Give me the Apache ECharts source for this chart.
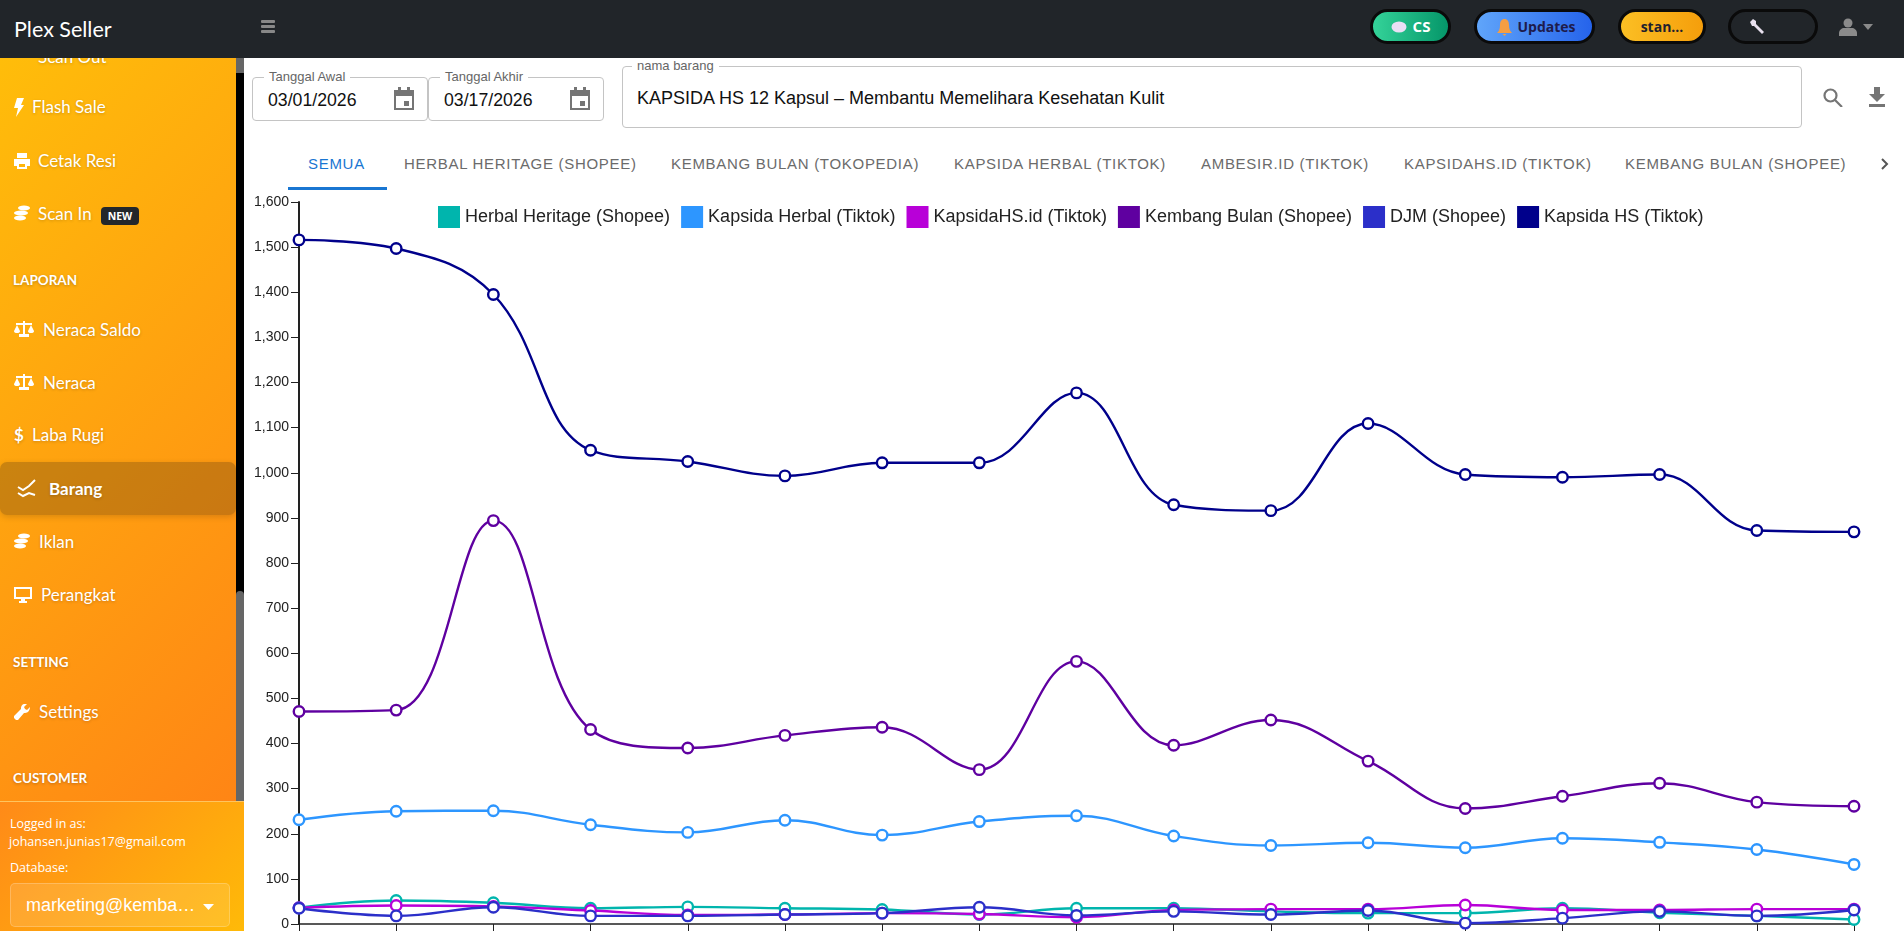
<!DOCTYPE html>
<html>
<head>
<meta charset="utf-8">
<title>Plex Seller</title>
<script src="https://cdn.jsdelivr.net/npm/echarts@6/dist/echarts.min.js"></script>
<style>
html, body { margin: 0; padding: 0; width: 1904px; height: 931px; overflow: hidden; background: #fff; font-family: "Liberation Sans", Arial, sans-serif; }
.abs, .abs * { box-sizing: border-box; }
.abs { position: absolute; }
#topbar { left: 0; top: 0; width: 1904px; height: 58px; background: #212529; z-index: 5; }
#brand { left: 14px; top: 14px; color: #fff; font: 21.500px/30px Lato, sans-serif; }
.pill { top: 9px; height: 35px; border: 3px solid #0a0a0a; border-radius: 18px; font: bold 14px/29px "Open Sans", sans-serif; text-align: center; }
#sidebar { left: 0; top: 58px; width: 236px; height: 743px; background: linear-gradient(135deg, #ffbd0a, #ff8515); overflow: hidden; }
.menu { position: absolute; color: #fff; font: 17px/24px Lato, sans-serif; text-shadow: 0 1px 3px rgba(0,0,0,.2); white-space: nowrap; }
.head { position: absolute; left: 13px; color: #fff; font: bold 13.5px/18px Lato, sans-serif; text-shadow: 0 1px 3px rgba(0,0,0,.25); }
.ico { position: absolute; fill: #fff; }
#active { left: 0; top: 404px; width: 236px; height: 53px; background: rgba(90,60,20,.32); border-radius: 7px; box-shadow: 0 2px 6px rgba(0,0,0,.15); }
#badge { left: 101px; top: 149px; width: 38px; height: 18px; background: #23272b; color: #fff; border-radius: 4px; font: bold 10.5px/18px "Open Sans", sans-serif; text-align: center; }
#track { left: 236px; top: 58px; width: 8px; height: 743px; background: #000; }
#bottom { left: 0; top: 801px; width: 244px; height: 130px; background: linear-gradient(135deg, #ff8a18, #ffba08); border-top: 1px solid #ffc45e; color: #fff; font: 12.5px/16px "Open Sans", sans-serif; }
.field { border: 1px solid #c4c4c4; border-radius: 4px; background: #fff; }
.flabel { position: absolute; top: -9px; background: #fff; padding: 0 5px; color: #666; font: 13px/16px "Liberation Sans", sans-serif; white-space: nowrap; }
.fval { position: absolute; color: #111; font: 17.700px/20px "Liberation Sans", sans-serif; white-space: nowrap; }
.tab { top: 154px; color: #6b6b6b; font: 15px/20px "Liberation Sans", sans-serif; letter-spacing: .7px; white-space: nowrap; }
#chart { left: 244px; top: 190px; width: 1660px; height: 741px; }
</style>
</head>
<body>

<div class="abs" id="topbar">
  <div class="abs" id="brand">Plex Seller</div>
  <svg class="abs" style="left:261px;top:20px" width="14" height="13" fill="#888"><rect width="14" height="3" rx="1"/><rect y="5" width="14" height="3" rx="1"/><rect y="10" width="14" height="3" rx="1"/></svg>
  <div class="abs pill" style="left:1370px;width:81px;background:linear-gradient(90deg,#34d399,#059669);color:#fff;padding-left:22px;font-size:15px">CS
    <svg class="abs" style="left:18px;top:9px" width="16" height="12"><ellipse cx="8" cy="6" rx="7.500" ry="5.500" fill="#eadff5"/></svg></div>
  <div class="abs pill" style="left:1474px;width:121px;background:linear-gradient(90deg,#60a5fa,#2563eb);color:#1e1b4b;padding-left:24px">Updates
    <svg class="abs" style="left:20px;top:7px" width="15" height="17"><path d="M7.500 0c3 0 4.500 2.500 4.500 6 0 4 1 6 3 8H0c2-2 3-4 3-8 0-3.500 1.500-6 4.500-6zM5.500 15h4l-2 2z" fill="#f59e42"/></svg></div>
  <div class="abs pill" style="left:1618px;width:88px;background:linear-gradient(90deg,#fbbf24,#f59e0b);color:#1f1f2e">stan...</div>
  <div class="abs pill" style="left:1728px;width:90px;background:#212529">
    <svg class="abs" style="left:19px;top:7px" width="14" height="15"><path d="M0 3l3-3 3 2v3l8 8-2 2-8-8H2z" fill="#e8e0ee"/></svg></div>
  <svg class="abs" style="left:1839px;top:18px" width="18" height="18" fill="#8a8a8a"><circle cx="9" cy="5" r="4.500"/><path d="M0 18v-3c0-3 3-5 5-5h8c2 0 5 2 5 5v3z"/></svg>
  <svg class="abs" style="left:1863px;top:24px" width="10" height="6" fill="#8a8a8a"><path d="M0 0h10L5 6z"/></svg>
</div>

<div class="abs" id="sidebar">
  <div class="menu" style="left:38px;top:-13px">Scan Out</div>
  <div class="abs" id="active"></div>
  <svg class="ico" style="left:14px;top:40px" width="10" height="19"><path d="M3 0h7L7 7h3L2 19l2-9H0z"/></svg>
  <div class="menu" style="left:32px;top:37px">Flash Sale</div>
  <svg class="ico" style="left:14px;top:95px" width="16" height="16"><path d="M3 0h10v5H3zM0 6h16v7h-3v3H3v-3H0zM5 11v3h6v-3z"/></svg>
  <div class="menu" style="left:38px;top:91px">Cetak Resi</div>
  <svg class="ico" style="left:14px;top:147px" width="16" height="16"><ellipse cx="10" cy="3" rx="6" ry="2.500"/><ellipse cx="7" cy="8" rx="7" ry="2.500"/><ellipse cx="6" cy="13" rx="6" ry="2.500"/></svg>
  <div class="menu" style="left:38px;top:144px">Scan In</div>
  <div class="abs" id="badge">NEW</div>
  <div class="head" style="top:213px">LAPORAN</div>
  <svg class="ico" style="left:14px;top:263px" width="20" height="16"><path d="M9 0h2v2h7v2h-7v9h4v3H5v-3h4V4H2V2h7zM0 10l3-6 3 6a3 2 0 0 1-6 0zM14 10l3-6 3 6a3 2 0 0 1-6 0z"/></svg>
  <div class="menu" style="left:43px;top:260px">Neraca Saldo</div>
  <svg class="ico" style="left:14px;top:316px" width="20" height="16"><path d="M9 0h2v2h7v2h-7v9h4v3H5v-3h4V4H2V2h7zM0 10l3-6 3 6a3 2 0 0 1-6 0zM14 10l3-6 3 6a3 2 0 0 1-6 0z"/></svg>
  <div class="menu" style="left:43px;top:313px">Neraca</div>
  <div class="menu" style="left:14px;top:365px;font-weight:bold">$</div>
  <div class="menu" style="left:32px;top:365px">Laba Rugi</div>
  <svg class="abs" style="left:17px;top:420px" width="21" height="21" fill="none" stroke="#fff" stroke-width="2"><path d="M1 9l5 3 6-4 6-6M1 15l5 3 6-3 6 2"/></svg>
  <div class="menu" style="left:49px;top:419px;font-weight:700">Barang</div>
  <svg class="ico" style="left:14px;top:475px" width="16" height="16"><ellipse cx="10" cy="3" rx="6" ry="2.500"/><ellipse cx="7" cy="8" rx="7" ry="2.500"/><ellipse cx="6" cy="13" rx="6" ry="2.500"/></svg>
  <div class="menu" style="left:39px;top:472px">Iklan</div>
  <svg class="ico" style="left:14px;top:529px" width="18" height="16"><path d="M0 0h18v12h-7v2h2v2H5v-2h2v-2H0zM2 2v8h14V2z"/></svg>
  <div class="menu" style="left:41px;top:525px">Perangkat</div>
  <div class="head" style="top:595px">SETTING</div>
  <svg class="ico" style="left:14px;top:646px" width="16" height="16"><path d="M16 3l-3 3-2-1-1-2 3-3c-3-1-6 1-6 4v1L0 12v2l2 2h2l6-7h1c3 0 5-3 5-6z"/></svg>
  <div class="menu" style="left:39px;top:642px">Settings</div>
  <div class="head" style="top:711px">CUSTOMER</div>
</div>

<div class="abs" id="track">
  <div class="abs" style="left:0;top:0;width:8px;height:15px;background:#666"></div>
  <div class="abs" style="left:0;top:533px;width:8px;height:210px;background:#666;border-radius:4px 4px 0 0"></div>
</div>

<div class="abs" id="bottom">
  <div class="abs" style="left:10px;top:14px">Logged in as:</div>
  <div class="abs" style="left:9px;top:32px;white-space:nowrap">johansen.junias17@gmail.com</div>
  <div class="abs" style="left:10px;top:58px">Database:</div>
  <div class="abs" style="left:10px;top:81px;width:220px;height:44px;background:rgba(255,255,255,.12);border:1px solid rgba(255,255,255,.22);border-radius:5px">
    <div class="abs" style="left:15px;top:11px;font:18px/20px 'Liberation Sans',sans-serif;white-space:nowrap">marketing@kemba…</div>
    <svg class="abs" style="left:192px;top:20px" width="11" height="6" fill="#fff"><path d="M0 0h11L5.500 6z"/></svg>
  </div>
</div>

<div class="abs field" style="left:252px;top:77px;width:176px;height:44px">
  <div class="flabel" style="left:11px">Tanggal Awal</div>
  <div class="fval" style="left:15px;top:12px">03/01/2026</div>
  <svg class="abs" style="left:141px;top:9px" width="20" height="23" fill="#757575"><path d="M0 3h4V0h3v3h6V0h3v3h4v20H0zM2 9v12h16V9zM10 14h5v5h-5z"/></svg>
</div>
<div class="abs field" style="left:428px;top:77px;width:176px;height:44px">
  <div class="flabel" style="left:11px">Tanggal Akhir</div>
  <div class="fval" style="left:15px;top:12px">03/17/2026</div>
  <svg class="abs" style="left:141px;top:9px" width="20" height="23" fill="#757575"><path d="M0 3h4V0h3v3h6V0h3v3h4v20H0zM2 9v12h16V9zM10 14h5v5h-5z"/></svg>
</div>
<div class="abs field" style="left:622px;top:66px;width:1180px;height:62px">
  <div class="flabel" style="left:9px">nama barang</div>
  <div class="fval" style="left:14px;top:21px;font-size:18px">KAPSIDA HS 12 Kapsul – Membantu Memelihara Kesehatan Kulit</div>
</div>
<svg class="abs" style="left:1823px;top:88px" width="20" height="19" fill="none" stroke="#757575" stroke-width="2.200"><circle cx="7.500" cy="7.500" r="6"/><path d="M12 12l7 7"/></svg>
<svg class="abs" style="left:1869px;top:87px" width="16" height="20" fill="#757575"><path d="M5 0h6v7h5l-8 8-8-8h5zM0 17h16v3H0z"/></svg>

<div class="abs tab" style="left:308px;color:#1976d2">SEMUA</div>
<div class="abs" style="left:288px;top:187px;width:99px;height:3px;background:#1976d2"></div>
<div class="abs tab" style="left:404px">HERBAL HERITAGE (SHOPEE)</div>
<div class="abs tab" style="left:671px">KEMBANG BULAN (TOKOPEDIA)</div>
<div class="abs tab" style="left:954px">KAPSIDA HERBAL (TIKTOK)</div>
<div class="abs tab" style="left:1201px">AMBESIR.ID (TIKTOK)</div>
<div class="abs tab" style="left:1404px">KAPSIDAHS.ID (TIKTOK)</div>
<div class="abs tab" style="left:1625px">KEMBANG BULAN (SHOPEE)</div>
<svg class="abs" style="left:1881px;top:158px" width="8" height="12" fill="none" stroke="#555" stroke-width="2"><path d="M1 1l5 5-5 5"/></svg>

<div class="abs" id="chart"></div>

<script>
const tanggal = ['03/01','03/02','03/03','03/04','03/05','03/06','03/07','03/08','03/09','03/10','03/11','03/12','03/13','03/14','03/15','03/16','03/17'];
const herbalHeritage = [36,52,47,35,38,35,32,21,35,35,28,24,24,35,25,18,10];
const kapsidaHerbal = [231,250,251,220,203,230,197,227,240,195,174,180,169,190,181,165,132];
const kapsidaHSid = [36,41,39,30,20,21,24,22,15,31,33,33,42,31,31,33,33];
const kembangBulan = [471,474,894,431,390,418,436,342,582,396,452,361,256,283,312,270,261];
const djm = [35,18,37,18,18,21,24,37,19,28,21,30,2,13,28,18,31];
const kapsidaHS = [1516,1497,1395,1050,1025,993,1022,1022,1177,929,916,1109,996,990,996,872,869];

const namaSeri = ['Herbal Heritage (Shopee)','Kapsida Herbal (Tiktok)','KapsidaHS.id (Tiktok)','Kembang Bulan (Shopee)','DJM (Shopee)','Kapsida HS (Tiktok)'];
const warnaSeri = ['#00b5ad','#2d96ff','#b800d8','#5f00a0','#2b2fc9','#00008b'];
const nilaiSeri = [herbalHeritage, kapsidaHerbal, kapsidaHSid, kembangBulan, djm, kapsidaHS];

const chart = echarts.init(document.getElementById('chart'), null, { renderer: 'canvas' });

chart.setOption({
    animation: false,
    backgroundColor: 'transparent',
    color: warnaSeri,
    legend: {
        left: 194,
        top: 16,
        padding: 0,
        itemWidth: 22,
        itemHeight: 22,
        itemGap: 11,
        icon: 'rect',
        textStyle: { fontFamily: 'Liberation Sans', fontSize: 18, color: '#222', padding: [8, 0, 0, 0] },
        // 图例色块用实心，折线圆点是白底
        data: namaSeri.map((nama, i) => ({
            name: nama,
            itemStyle: { color: warnaSeri[i], borderWidth: 0 }
        }))
    },
    grid: { left: 55, top: 12, right: 50, bottom: 7 },
    xAxis: {
        type: 'category',
        boundaryGap: false,
        data: tanggal,
        axisLine: { lineStyle: { color: '#222', width: 1.5 } },
        axisTick: { show: true, length: 8, lineStyle: { color: '#222', width: 1 } },
        axisLabel: { show: false }
    },
    yAxis: {
        type: 'value',
        min: 0,
        max: 1600,
        interval: 100,
        splitLine: { show: false },
        axisLine: { show: true, lineStyle: { color: '#222', width: 2 } },
        axisTick: { show: true, length: 8, lineStyle: { color: '#222', width: 1 } },
        axisLabel: {
            margin: 10,
            fontFamily: 'Liberation Sans',
            fontSize: 14,
            color: '#222',
            formatter: v => v.toLocaleString('en-US')
        }
    },
    series: nilaiSeri.map((nilai, i) => ({
        name: namaSeri[i],
        type: 'line',
        data: nilai,
        smooth: 0.4,
        symbol: 'circle',
        symbolSize: 10.5,
        showAllSymbol: true,
        clip: false,
        lineStyle: { width: 2.4, color: warnaSeri[i] },
        itemStyle: { color: '#fff', borderColor: warnaSeri[i], borderWidth: 2.4 }
    }))
});
</script>
</body>
</html>
